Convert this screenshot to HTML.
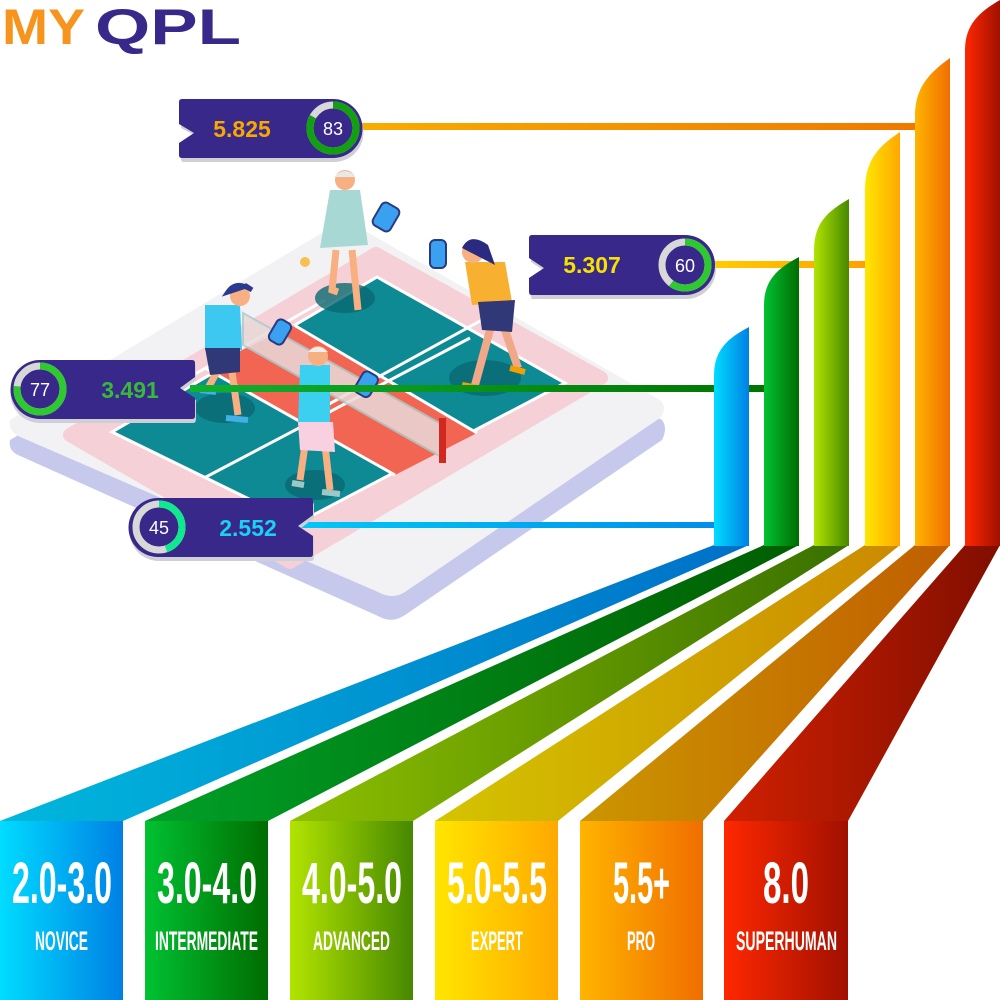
<!DOCTYPE html>
<html><head><meta charset="utf-8"><style>html,body{margin:0;padding:0;background:#fff}svg{display:block}</style></head>
<body>
<svg width="1000" height="1000" viewBox="0 0 1000 1000" xmlns="http://www.w3.org/2000/svg" font-family="Liberation Sans, sans-serif">
<defs>
<linearGradient id="gB" x1="0" x2="1"><stop offset="0" stop-color="#00dcff"/><stop offset="1" stop-color="#0080e4"/></linearGradient>
<linearGradient id="gG" x1="0" x2="1"><stop offset="0" stop-color="#00c232"/><stop offset="1" stop-color="#006c00"/></linearGradient>
<linearGradient id="gL" x1="0" x2="1"><stop offset="0" stop-color="#b2e400"/><stop offset="1" stop-color="#468800"/></linearGradient>
<linearGradient id="gY" x1="0" x2="1"><stop offset="0" stop-color="#ffe600"/><stop offset="1" stop-color="#ffa800"/></linearGradient>
<linearGradient id="gO" x1="0" x2="1"><stop offset="0" stop-color="#ffb400"/><stop offset="1" stop-color="#f06e00"/></linearGradient>
<linearGradient id="gR" x1="0" x2="1"><stop offset="0" stop-color="#ff2800"/><stop offset="1" stop-color="#a01000"/></linearGradient>
<linearGradient id="rB" x1="0" x2="1"><stop offset="0" stop-color="#00b8dc"/><stop offset="1" stop-color="#0070c8"/></linearGradient>
<linearGradient id="rG" x1="0" x2="1"><stop offset="0" stop-color="#00a028"/><stop offset="1" stop-color="#005e00"/></linearGradient>
<linearGradient id="rL" x1="0" x2="1"><stop offset="0" stop-color="#8ec000"/><stop offset="1" stop-color="#387000"/></linearGradient>
<linearGradient id="rY" x1="0" x2="1"><stop offset="0" stop-color="#d4c400"/><stop offset="1" stop-color="#cc8a00"/></linearGradient>
<linearGradient id="rO" x1="0" x2="1"><stop offset="0" stop-color="#cc9600"/><stop offset="1" stop-color="#c05e00"/></linearGradient>
<linearGradient id="rR" x1="0" x2="1"><stop offset="0" stop-color="#d02000"/><stop offset="1" stop-color="#800e00"/></linearGradient>
<linearGradient id="lO" x1="0" x2="1"><stop offset="0" stop-color="#f8ac00"/><stop offset="1" stop-color="#f07800"/></linearGradient>
<linearGradient id="lY" x1="0" x2="1"><stop offset="0" stop-color="#ffcc00"/><stop offset="1" stop-color="#ffa000"/></linearGradient>
<linearGradient id="lG" x1="0" x2="1"><stop offset="0" stop-color="#10b030"/><stop offset="1" stop-color="#007400"/></linearGradient>
<linearGradient id="lC" x1="0" x2="1"><stop offset="0" stop-color="#00c8f8"/><stop offset="1" stop-color="#0090e8"/></linearGradient>
</defs>

<!-- logo -->
<text x="2" y="44" font-size="50" font-weight="bold" fill="#f7941d" textLength="83" lengthAdjust="spacingAndGlyphs">MY</text>
<text x="95" y="44" font-size="50" font-weight="bold" fill="#37288a" textLength="146" lengthAdjust="spacingAndGlyphs">QPL</text>

<!-- platform -->
<path d="M10,440 L330,250 Q345,242 360,250 L662,420 Q668,428 662,440 L405,615 Q392,624 378,616 L18,455 Q8,450 10,440Z" fill="#c6c8ec"/>
<path d="M10,420 L330,228 Q345,220 360,228 L660,400 Q668,408 660,418 L405,592 Q392,600 378,592 L18,436 Q8,430 10,420Z" fill="#f2f2f4"/>
<path d="M70,435 L376,254 L601,378 L290,562Z" fill="#f5d0d6" stroke="#f5d0d6" stroke-width="14" stroke-linejoin="round"/>
<path d="M112,432 L377,277 L565,383 L298,523Z" fill="#0d8a94" stroke="#fff" stroke-width="3"/>
<path d="M294,325 L477,433 L395,475 L205,368Z" fill="#f26552"/>
<path d="M294,325 L477,433 M205,368 L395,475 M204,478 L470,338 M188,378 L325,300 M300,420 L520,299" stroke="#fff" stroke-width="3" fill="none"/>
<!-- shadows -->
<ellipse cx="345" cy="298" rx="30" ry="15" fill="#0a6870" opacity=".8"/>
<ellipse cx="485" cy="378" rx="36" ry="18" fill="#0a6870" opacity=".8"/>
<ellipse cx="225" cy="408" rx="30" ry="15" fill="#0a6870" opacity=".8"/>
<ellipse cx="315" cy="485" rx="30" ry="15" fill="#0a6870" opacity=".8"/>
<!-- net -->
<path d="M243,313 L443,425 L443,458 L243,345Z" fill="#e9dada" opacity=".85" stroke="#aacccc" stroke-width="2"/>
<rect x="439" y="418" width="7" height="45" fill="#d02a20"/>

<!-- player top -->
<path d="M336,250 L332,290 L338,292 M352,250 L358,310" stroke="#f8b083" stroke-width="7" fill="none"/>
<path d="M330,190 L360,190 L368,245 L320,248Z" fill="#a8d8d4"/>
<circle cx="345" cy="180" r="10" fill="#f8b083"/><path d="M334,177 Q345,165 356,177Z" fill="#e8e8e8"/>
<rect x="376" y="204" width="20" height="26" rx="5" fill="#3aa0f0" stroke="#2a3a80" stroke-width="2" transform="rotate(30 386 217)"/>
<circle cx="305" cy="262" r="5" fill="#f8c050"/>
<!-- player right -->
<path d="M490,330 L475,385 M505,330 L518,368" stroke="#f0a888" stroke-width="8" fill="none"/>
<path d="M465,262 L505,262 L512,302 L472,305Z" fill="#f8b030"/>
<path d="M478,302 L515,300 L512,332 L482,330Z" fill="#303878"/>
<circle cx="473" cy="252" r="11" fill="#f8b083"/><path d="M462,248 Q470,232 488,245 L495,265 Z" fill="#2a2a80"/>
<rect x="430" y="240" width="16" height="28" rx="5" fill="#3aa0f0" stroke="#2a3a80" stroke-width="2"/>
<path d="M462,385 L478,388 M510,368 L525,372" stroke="#f0a000" stroke-width="6"/>
<!-- player left -->
<path d="M218,370 L208,388 M232,372 L238,415" stroke="#f8b083" stroke-width="7" fill="none"/>
<path d="M205,305 L240,305 L242,350 L205,350Z" fill="#3cc8f0"/>
<path d="M205,348 L240,348 L240,372 L210,375Z" fill="#303878"/>
<circle cx="240" cy="296" r="10" fill="#f8b083"/><path d="M228,292 Q236,280 252,290 L246,286Z" fill="#2a3a90" stroke="#2a3a90" stroke-width="5"/>
<rect x="272" y="320" width="16" height="24" rx="5" fill="#3aa0f0" stroke="#2a3a80" stroke-width="2" transform="rotate(30 280 332)"/>
<path d="M200,390 L216,392 M226,418 L248,420" stroke="#40b0e8" stroke-width="6"/>
<!-- player center -->
<path d="M305,445 L300,480 M325,445 L330,490" stroke="#f8b083" stroke-width="7" fill="none"/>
<path d="M300,365 L330,365 L330,425 L298,425Z" fill="#3cd0f0"/>
<path d="M298,422 L333,422 L335,452 L300,450Z" fill="#f8d0e0"/>
<circle cx="318" cy="356" r="10" fill="#f8b083"/><path d="M308,352 Q318,342 328,352Z" fill="#eee"/>
<rect x="358" y="372" width="17" height="24" rx="5" fill="#3aa0f0" stroke="#2a3a80" stroke-width="2" transform="rotate(30 366 384)"/>
<path d="M292,483 L304,485 M322,492 L340,494" stroke="#9cc8c8" stroke-width="6"/>

<!-- connector lines -->
<rect x="360" y="123" width="556" height="7" fill="url(#lO)"/>
<rect x="712" y="261" width="154" height="7" fill="url(#lY)"/>
<rect x="190" y="385" width="575" height="7" fill="url(#lG)"/>
<rect x="300" y="522" width="415" height="6" fill="url(#lC)"/>

<!-- ribbons -->
<path d="M714,545 L749,545 L123,821 L0,821Z" fill="url(#rB)"/>
<path d="M764,545 L799,545 L268,821 L145,821Z" fill="url(#rG)"/>
<path d="M814,545 L849,545 L413,821 L290,821Z" fill="url(#rL)"/>
<path d="M865,545 L900,545 L558,821 L435,821Z" fill="url(#rY)"/>
<path d="M915,545 L950,545 L703,821 L580,821Z" fill="url(#rO)"/>
<path d="M965,545 L1000,545 L848,821 L724,821Z" fill="url(#rR)"/>

<!-- bars -->
<path d="M714,546 L714,375 C714,350 728,338 749,327 L749,546Z" fill="url(#gB)"/>
<path d="M764,546 L764,305 C764,280 778,268 799,257 L799,546Z" fill="url(#gG)"/>
<path d="M814,546 L814,250 C814,223 828,211 849,199 L849,546Z" fill="url(#gL)"/>
<path d="M865,546 L865,190 C865,160 879,146 900,132 L900,546Z" fill="url(#gY)"/>
<path d="M915,546 L915,115 C915,88 929,73 950,58 L950,546Z" fill="url(#gO)"/>
<path d="M965,546 L965,50 C965,25 979,12 1000,0 L1000,546Z" fill="url(#gR)"/>

<!-- badges -->
<g>
<path d="M183,103 L334,103 A28,28 0 0 1 334,162 L183,162 Q181,162 181,158 L181,146 L196,136 L181,128 L181,107 Q181,103 183,103Z" fill="#cfcfd6"/>
<path d="M182,99 L333,99 A29,29 0 0 1 333,158 L182,158 Q179,158 179,155 L179,143 L194,133 L179,124 L179,102 Q179,99 182,99Z" fill="#37288a"/>
<text x="242" y="137" font-size="23" font-weight="bold" fill="#f8a800" text-anchor="middle">5.825</text>
<circle cx="333" cy="128" r="23" fill="none" stroke="#d8d8d8" stroke-width="7"/>
<circle cx="333" cy="128" r="23" fill="none" stroke="#10a010" stroke-width="7" stroke-dasharray="120 200" transform="rotate(-90 333 128)"/>
<text x="333" y="135" font-size="18" fill="#fff" text-anchor="middle">83</text>
</g>
<g>
<path d="M533,239 L686,239 A28,28 0 0 1 686,299 L533,299 Q531,299 531,296 L531,282 L546,272 L531,262 L531,243 Q531,239 533,239Z" fill="#cfcfd6"/>
<path d="M532,235 L685,235 A30,30 0 0 1 685,295 L532,295 Q529,295 529,292 L529,278 L544,268 L529,258 L529,238 Q529,235 532,235Z" fill="#37288a"/>
<text x="592" y="273" font-size="23" font-weight="bold" fill="#f8e000" text-anchor="middle">5.307</text>
<circle cx="685" cy="265" r="23" fill="none" stroke="#d8d8d8" stroke-width="7"/>
<circle cx="685" cy="265" r="23" fill="none" stroke="#30c830" stroke-width="7" stroke-dasharray="87 200" transform="rotate(-90 685 265)"/>
<text x="685" y="272" font-size="18" fill="#fff" text-anchor="middle">60</text>
</g>
<g>
<path d="M40,364 L193,364 Q196,364 196,367 L196,380 L182,391 L196,400 L196,419 Q196,423 193,423 L40,423 A29,29 0 0 1 40,364Z" fill="#cfcfd6"/>
<path d="M40,360 L192,360 Q195,360 195,363 L195,377 L180,388 L195,398 L195,416 Q195,419 192,419 L40,419 A29.5,29.5 0 0 1 40,360Z" fill="#37288a"/>
<text x="130" y="398" font-size="23" font-weight="bold" fill="#3ab83a" text-anchor="middle">3.491</text>
<circle cx="40" cy="389" r="23" fill="none" stroke="#d8d8d8" stroke-width="7"/>
<circle cx="40" cy="389" r="23" fill="none" stroke="#30c830" stroke-width="7" stroke-dasharray="111 200" transform="rotate(-90 40 389)"/>
<text x="40" y="396" font-size="18" fill="#fff" text-anchor="middle">77</text>
</g>
<g>
<path d="M159,502 L311,502 Q314,502 314,505 L314,518 L300,529 L314,538 L314,557 Q314,561 311,561 L159,561 A29,29 0 0 1 159,502Z" fill="#cfcfd6"/>
<path d="M158,498 L310,498 Q313,498 313,501 L313,515 L298,526 L313,536 L313,554 Q313,557 310,557 L158,557 A29.5,29.5 0 0 1 158,498Z" fill="#37288a"/>
<text x="248" y="536" font-size="23" font-weight="bold" fill="#1ad0f5" text-anchor="middle">2.552</text>
<circle cx="159" cy="527" r="23" fill="none" stroke="#d8d8d8" stroke-width="7"/>
<circle cx="159" cy="527" r="23" fill="none" stroke="#10e890" stroke-width="7" stroke-dasharray="65 200" transform="rotate(-90 159 527)"/>
<text x="159" y="534" font-size="18" fill="#fff" text-anchor="middle">45</text>
</g>

<!-- bottom boxes -->
<rect x="0" y="821" width="123" height="179" fill="url(#gB)"/>
<rect x="145" y="821" width="123" height="179" fill="url(#gG)"/>
<rect x="290" y="821" width="123" height="179" fill="url(#gL)"/>
<rect x="435" y="821" width="123" height="179" fill="url(#gY)"/>
<rect x="580" y="821" width="123" height="179" fill="url(#gO)"/>
<rect x="724" y="821" width="124" height="179" fill="url(#gR)"/>
<g fill="#fff" font-weight="bold" font-size="58">
<text x="12" y="903" textLength="100" lengthAdjust="spacingAndGlyphs">2.0-3.0</text>
<text x="157" y="903" textLength="100" lengthAdjust="spacingAndGlyphs">3.0-4.0</text>
<text x="302" y="903" textLength="100" lengthAdjust="spacingAndGlyphs">4.0-5.0</text>
<text x="447" y="903" textLength="100" lengthAdjust="spacingAndGlyphs">5.0-5.5</text>
<text x="613" y="903" textLength="57" lengthAdjust="spacingAndGlyphs">5.5+</text>
<text x="763" y="903" textLength="46" lengthAdjust="spacingAndGlyphs">8.0</text>
</g>
<g fill="#fff" font-weight="bold" font-size="27">
<text x="35" y="950" textLength="53" lengthAdjust="spacingAndGlyphs">NOVICE</text>
<text x="155" y="950" textLength="103" lengthAdjust="spacingAndGlyphs">INTERMEDIATE</text>
<text x="313" y="950" textLength="77" lengthAdjust="spacingAndGlyphs">ADVANCED</text>
<text x="471" y="950" textLength="52" lengthAdjust="spacingAndGlyphs">EXPERT</text>
<text x="627" y="950" textLength="28" lengthAdjust="spacingAndGlyphs">PRO</text>
<text x="736" y="950" textLength="101" lengthAdjust="spacingAndGlyphs">SUPERHUMAN</text>
</g>
</svg>
</body></html>
